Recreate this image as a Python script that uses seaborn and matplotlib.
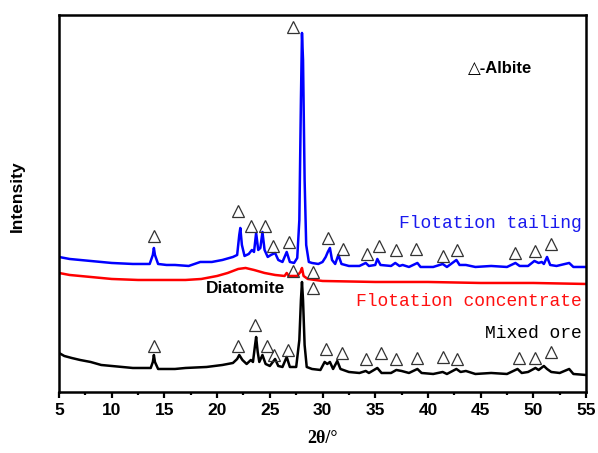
import pandas as pd
import matplotlib
matplotlib.use("Agg")
import matplotlib.pyplot as plt
import seaborn as sns

# ------------------------------------------------------------
# XRD patterns (2theta in degrees, intensity in arbitrary units)
# ------------------------------------------------------------

tailing_2theta = [5.0, 6.0, 7.0, 8.0, 10.0, 12.0, 13.6, 13.9, 14.0, 14.1, 14.4, 15.2, 16.0, 17.3,
                  18.4, 19.5, 20.5, 21.5, 21.9, 22.1, 22.2, 22.35, 22.6, 23.0, 23.3, 23.5, 23.7,
                  23.9, 24.1, 24.3, 24.5, 24.8, 25.1, 25.5, 25.8, 26.2, 26.6, 26.9, 27.3, 27.6,
                  27.8, 27.95, 28.05, 28.15, 28.3, 28.45, 28.7, 29.0, 29.6, 30.0, 30.3, 30.5,
                  30.7, 30.9, 31.2, 31.5, 31.8, 32.5, 33.5, 34.1, 34.4, 35.0, 35.2, 35.5, 36.5,
                  36.9, 37.3, 37.6, 38.2, 39.0, 39.3, 40.5, 41.4, 41.8, 42.7, 43.0, 43.6, 44.5,
                  46.0, 47.5, 48.3, 48.7, 49.5, 50.1, 50.5, 50.8, 51.0, 51.3, 51.6, 52.2, 53.4,
                  53.8, 55.0]
tailing_int = [135, 133, 132, 131, 129, 128, 128, 137, 144, 137, 128, 127, 127, 126,
               130, 130, 132, 135, 137, 157, 164, 147, 136, 138, 142, 140, 159,
               142, 144, 160, 142, 135, 137, 139, 132, 130, 140, 130, 129, 134,
               172, 292, 359, 332, 212, 147, 130, 129, 128, 130, 135, 140,
               144, 132, 128, 137, 128, 126, 126, 129, 126, 127, 133, 127, 126,
               129, 126, 127, 125, 129, 125, 125, 128, 125, 132, 127, 127, 125,
               126, 125, 129, 126, 126, 131, 129, 130, 128, 135, 127, 126, 129,
               125, 125]

conc_2theta = [5.0, 6.0, 8.0, 10.0, 12.5, 15.0, 17.0, 18.5, 20.0, 21.0, 22.0, 22.7, 23.5, 24.5,
               25.5, 26.4, 26.6, 26.8, 27.6, 27.9, 28.05, 28.2, 28.6, 30.0, 35.0, 40.0, 45.0,
               50.0, 55.0]
conc_int = [119, 117, 115, 113, 112, 112, 112, 113, 116, 119, 123, 124, 122, 119,
            117, 116, 119, 116, 116, 120, 124, 116, 113, 111, 110, 110, 109,
            109, 108]

mixed_2theta = [5.0, 5.5, 6.2, 7.0, 8.0, 9.0, 10.0, 12.0, 13.7, 13.9, 14.0, 14.1, 14.4, 15.0,
                16.0, 17.0, 19.0, 20.5, 21.5, 21.9, 22.1, 22.4, 22.8, 23.2, 23.4, 23.6, 23.7,
                23.85, 24.0, 24.3, 24.6, 25.0, 25.5, 25.8, 26.2, 26.6, 26.9, 27.5, 27.8, 27.95,
                28.05, 28.15, 28.3, 28.5, 29.0, 29.8, 30.2, 30.45, 30.7, 31.0, 31.4, 31.7,
                32.5, 33.5, 34.1, 34.4, 35.2, 35.6, 36.5, 37.0, 37.5, 38.2, 39.0, 39.4, 40.5,
                41.4, 41.8, 42.7, 43.1, 43.6, 44.5, 46.0, 47.5, 48.5, 48.9, 49.5, 50.2, 50.5,
                51.0, 51.3, 51.7, 52.5, 53.4, 53.8, 55.0]
mixed_int = [39, 36, 34, 32, 30, 27, 26, 24, 24, 30, 37, 30, 23, 23,
             23, 24, 25, 27, 29, 33, 37, 32, 28, 32, 30, 47, 55,
             40, 30, 37, 28, 26, 33, 26, 25, 35, 25, 25, 52, 92,
             110, 92, 47, 25, 23, 22, 30, 28, 30, 23, 31, 23,
             20, 19, 21, 19, 24, 19, 19, 22, 21, 19, 23, 19, 18,
             20, 18, 23, 20, 21, 18, 19, 18, 23, 19, 20, 24, 22,
             26, 23, 20, 19, 23, 18, 17]

# albite peak markers
albite_2theta = [27.2, 14.0, 22.0, 23.25, 24.5, 25.3, 26.8, 30.5, 31.9, 34.2, 35.4, 37.0, 38.9,
                 41.4, 42.8, 48.3, 50.2, 51.7,
                 27.2, 29.1, 29.1,
                 14.0, 22.0, 23.6, 24.7, 25.4, 26.7, 30.3, 31.8, 34.1, 35.5, 37.0, 39.0,
                 41.4, 42.8, 48.6, 50.2, 51.7]
albite_int = [365, 156, 181, 166, 166, 146, 150, 154, 143, 138, 146, 142, 143,
              136, 142, 139, 141, 148,
              121, 120, 104,
              46, 46, 67, 46, 37, 42, 43, 39, 33, 39, 33, 34,
              35, 33, 34, 34, 40]

# ------------------------------------------------------------
# Plot
# ------------------------------------------------------------

sns.set_style("ticks")
plt.rcParams['font.family'] = ['Liberation Sans', 'DejaVu Sans']
plt.rcParams['text.color'] = 'black'
plt.rcParams['axes.labelcolor'] = 'black'
plt.rcParams['xtick.color'] = 'black'
plt.rcParams['ytick.color'] = 'black'

fig = plt.figure(figsize=(5.98, 4.53), dpi=100)
ax = fig.add_axes([0.0987, 0.1347, 0.8813, 0.8323])

sns.lineplot(x=tailing_2theta, y=tailing_int, color="#0000ff", linewidth=1.8, ax=ax, estimator=None)
sns.lineplot(x=conc_2theta, y=conc_int, color="#ff0000", linewidth=1.8, ax=ax, estimator=None)
sns.lineplot(x=mixed_2theta, y=mixed_int, color="black", linewidth=1.8, ax=ax, estimator=None)

ax.plot(albite_2theta, albite_int, linestyle="none", marker="^", markersize=9,
        markerfacecolor="none", markeredgecolor="#333333", markeredgewidth=0.9)

# labels
mono = ['Liberation Mono', 'DejaVu Sans Mono']
ax.text(54.6, 168, "Flotation tailing", color="#1a1aee", fontsize=13, family=mono,
        ha="right", va="center")
ax.text(54.6, 90, "Flotation concentrate", color="#ff1010", fontsize=13, family=mono,
        ha="right", va="center")
ax.text(54.6, 58, "Mixed ore", color="black", fontsize=13, family=mono,
        ha="right", va="center")
ax.text(18.9, 103, "Diatomite", color="black", fontsize=12.5, fontweight="bold",
        ha="left", va="center")
ax.text(43.8, 323, "△-Albite", color="black", fontsize=12, fontweight="bold",
        ha="left", va="center", family=['Liberation Sans', 'DejaVu Sans'])

ax.set_xlim(5, 55)
ax.set_ylim(0, 377)
ax.set_xticks(range(5, 56, 5))
ax.set_xticks([x + 2.5 for x in range(5, 55, 5)], minor=True)
ax.set_yticks([])
ax.tick_params(axis="x", which="major", direction="out", length=4, width=1.6,
               labelsize=12.5, pad=4, colors="black")
ax.tick_params(axis="x", which="minor", direction="out", length=2.5, width=1.6, colors="black")
for lab in ax.get_xticklabels():
    lab.set_fontweight("bold")

for side in ["left", "right", "top", "bottom"]:
    ax.spines[side].set_visible(True)
    ax.spines[side].set_linewidth(1.8)
    ax.spines[side].set_color("black")

ax.set_xlabel("2θ/°", fontsize=13, fontweight="bold", color="black",
              family=['Liberation Serif', 'DejaVu Serif'])
ax.xaxis.set_label_coords(0.5, -0.10)
ax.set_ylabel("Intensity", fontsize=12.5, fontweight="bold", color="black")
ax.yaxis.set_label_coords(-0.064, 0.52)

fig.savefig("out.png", dpi=100)
